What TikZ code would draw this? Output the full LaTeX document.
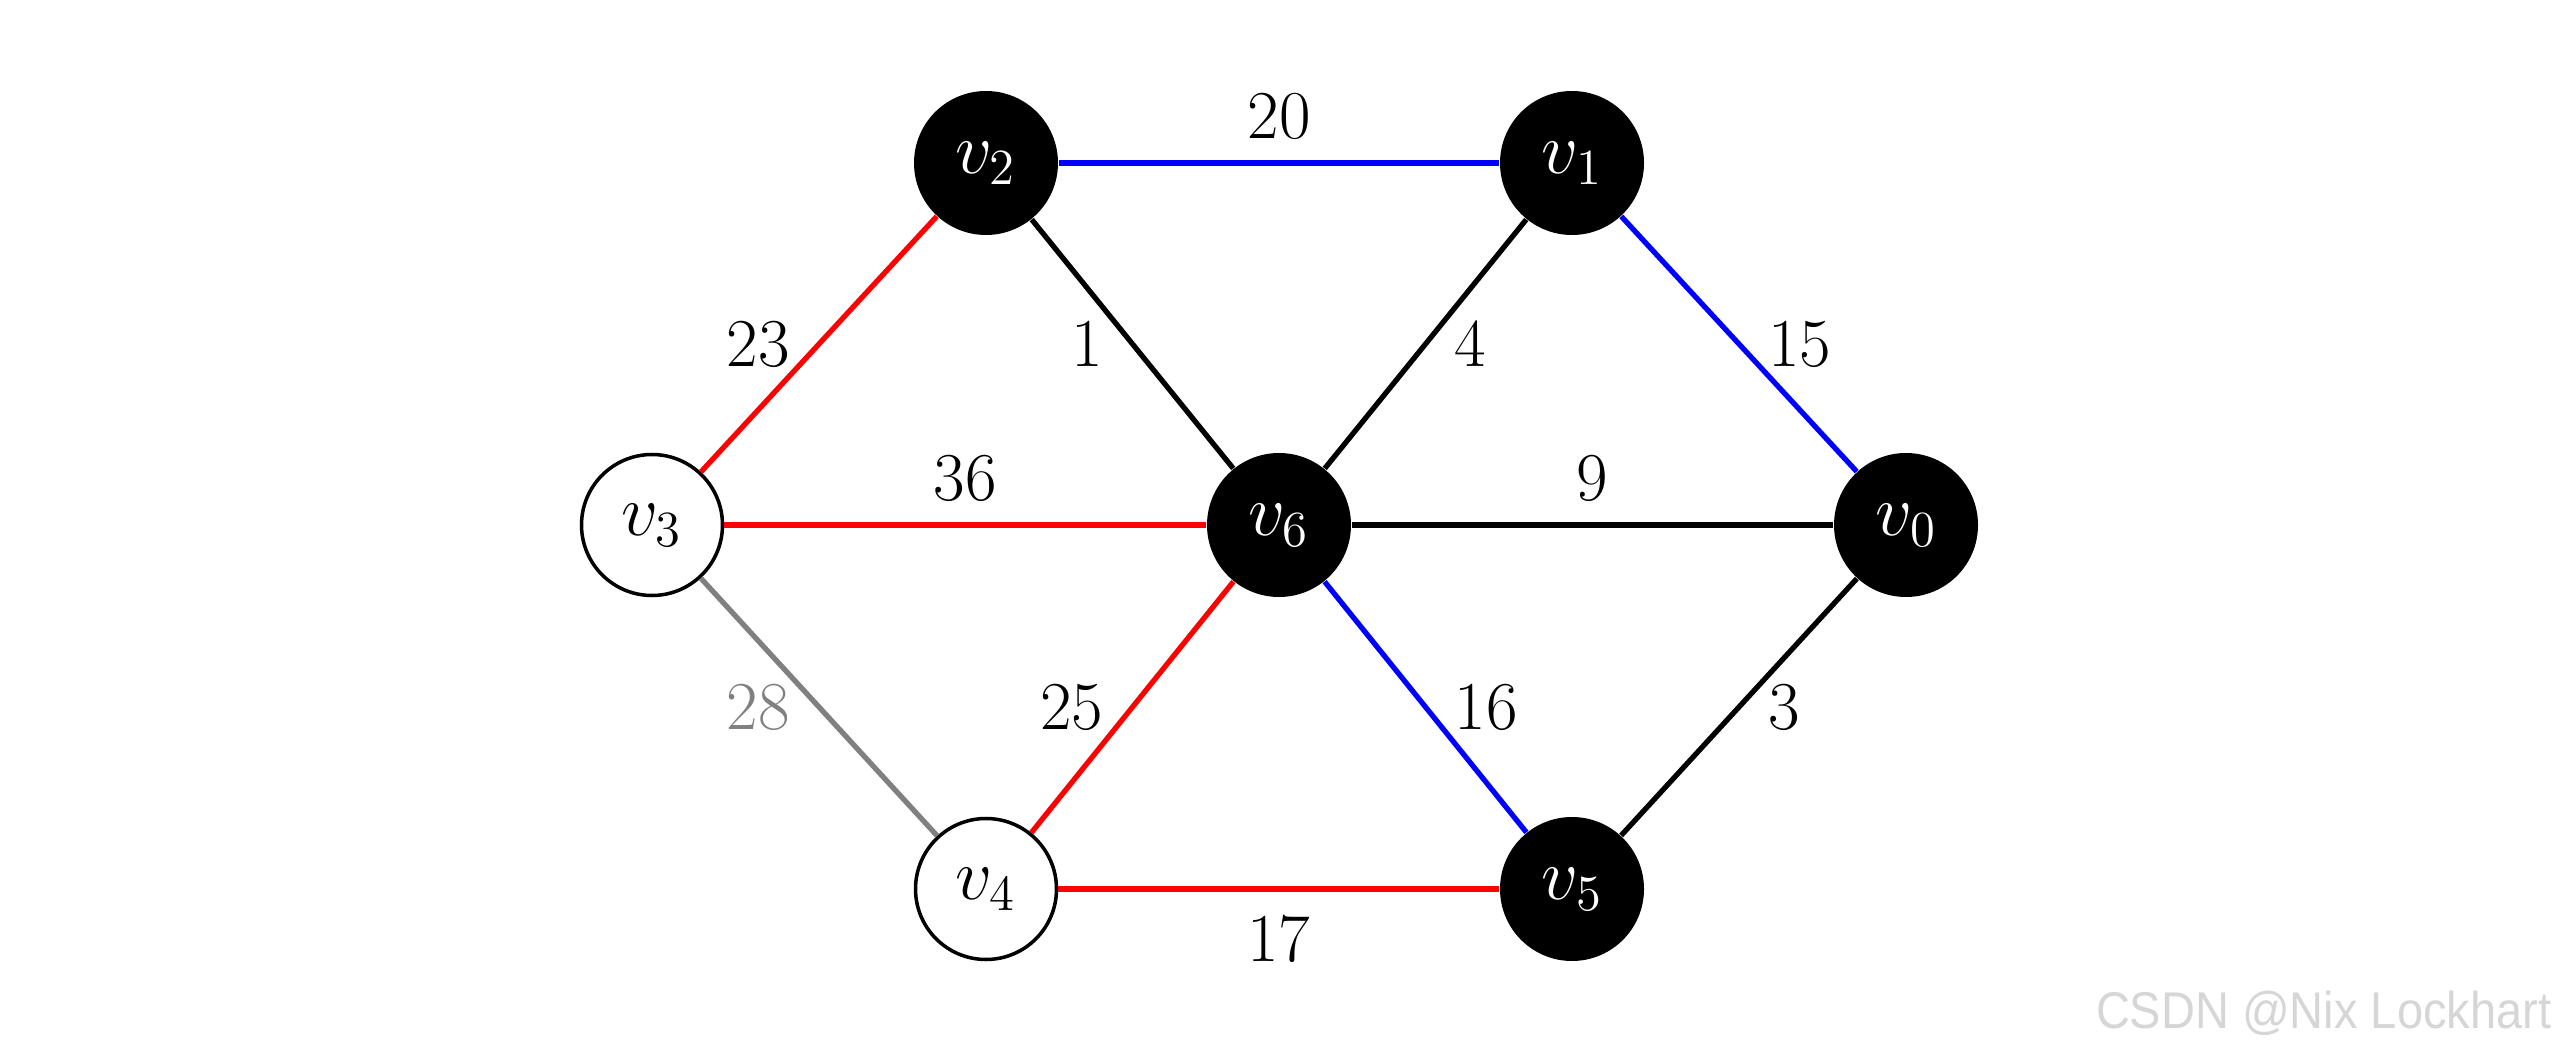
\documentclass[tikz,border=0pt]{standalone}
\usepackage{amsmath,amssymb}
\usepackage{fontspec}
\newfontfamily\wmfont{Liberation Sans}
\usepackage{tikz}
\usetikzlibrary{positioning}

\begin{document}
\begin{tikzpicture}[every node/.style={font=\fontsize{19.5}{23}\selectfont},
  blackv/.style={circle, fill=black, text=white, minimum size=1.44cm, inner sep=0pt},
  whitev/.style={circle, fill=white, draw=black, line width=1pt, minimum size=1.41cm, inner sep=0pt},
  edge/.style={line width=1.5pt},
  wt/.style={midway, text=black}]
\useasboundingbox (0,0) rectangle (25.6,10.53);

% vertices
\node[blackv] (v2) at (9.86,8.90) {$v_2$};
\node[blackv] (v1) at (15.72,8.90) {$v_1$};
\node[whitev] (v3) at (6.52,5.28) {$v_3$};
\node[blackv] (v6) at (12.79,5.28) {$v_6$};
\node[blackv] (v0) at (19.06,5.28) {$v_0$};
\node[whitev] (v4) at (9.86,1.64) {$v_4$};
\node[blackv] (v5) at (15.72,1.64) {$v_5$};

% edges
\draw[edge, blue] (v2) -- (v1) node[wt, above=0.09cm] {20};
\draw[edge, red] (v3) -- (v2) node[wt, left=0.15cm] {23};
\draw[edge] (v2) -- (v6) node[wt, left=0.15cm] {1};
\draw[edge] (v6) -- (v1) node[wt, right=0.15cm] {4};
\draw[edge, blue] (v1) -- (v0) node[wt, right=0.15cm] {15};
\draw[edge, red] (v3) -- (v6) node[wt, above=0.09cm] {36};
\draw[edge] (v6) -- (v0) node[wt, above=0.09cm] {9};
\draw[edge, gray] (v3) -- (v4) node[wt, left=0.15cm, text=gray] {28};
\draw[edge, red] (v4) -- (v6) node[wt, left=0.15cm] {25};
\draw[edge, blue] (v6) -- (v5) node[wt, right=0.15cm] {16};
\draw[edge] (v5) -- (v0) node[wt, right=0.15cm] {3};
\draw[edge, red] (v4) -- (v5) node[wt, below=0.12cm] {17};

\node[anchor=base east, inner sep=0pt, text=black!16, font=\wmfont\fontsize{14.7}{18}\selectfont] (wm) at (25.52,0.25) {\scalebox{0.91}[1]{CSDN @Nix Lockhart}};
\end{tikzpicture}
\end{document}
